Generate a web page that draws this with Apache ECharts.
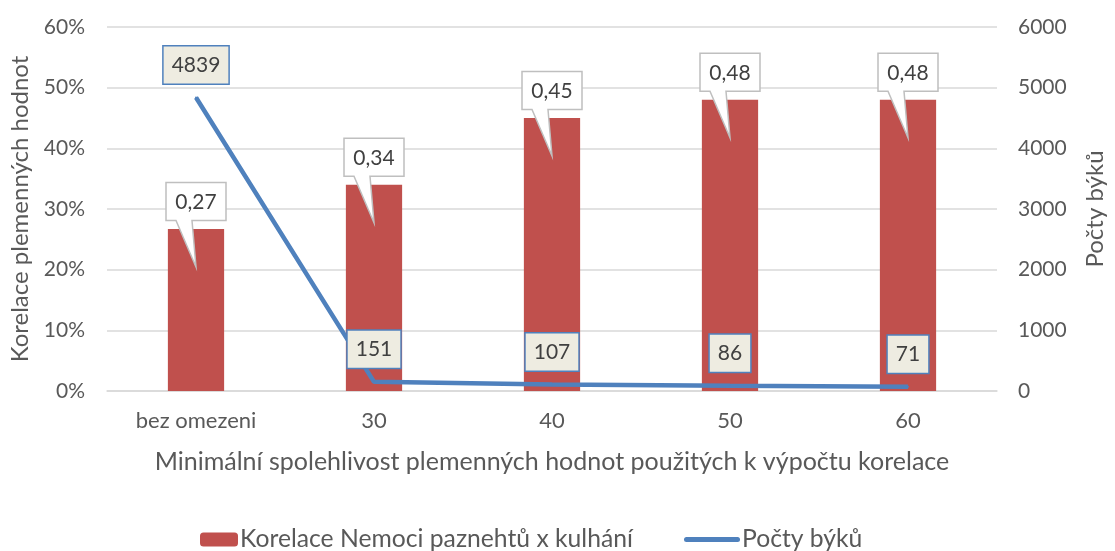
<!DOCTYPE html>
<html>
<head>
<meta charset="utf-8">
<script src="https://cdn.jsdelivr.net/npm/echarts@6/dist/echarts.min.js"></script>
<style>
html,body{margin:0;padding:0;background:#fff;}
#c{width:1115px;height:551px;}
</style>
</head>
<body>
<div id="c"></div>
<script>
const categories = ['bez omezeni', '30', '40', '50', '60'];
const correlation = [0.267, 0.34, 0.45, 0.48, 0.48];
const bullCounts = [4839, 151, 107, 86, 71];
const leftTicks = { min: 0, max: 0.6, interval: 0.1 };
const rightTicks = { min: 0, max: 6000, interval: 1000 };
const barName = 'Korelace Nemoci paznehtů x kulhání';
const lineName = 'Počty býků';

const FONT = 'Lato';
const TXT = '#595959';

const chart = echarts.init(document.getElementById('c'));

function callout(params, api) {
  const idx = api.value(0);
  const p = api.coord([idx, api.value(1)]);
  const x = p[0], top = p[1];
  const w = 60, h = 38;
  const by = top - 8.5;
  const ty = by - h;
  const pts = [
    [x - w / 2, ty], [x + w / 2, ty], [x + w / 2, by],
    [x - 4, by], [x, top + 38], [x - 20, by], [x - w / 2, by]
  ];
  return {
    type: 'group',
    children: [
      { type: 'polygon', shape: { points: pts },
        style: { fill: '#ffffff', stroke: '#BFBFBF', lineWidth: 1.5 } },
      { type: 'text', x: x, y: ty + h / 2 + 1,
        style: { text: api.value(1).toFixed(2).replace('.', ','), fill: '#404040',
          font: '21px ' + FONT, align: 'center', verticalAlign: 'middle' } }
    ]
  };
}

chart.setOption({
  animation: false,
  textStyle: { fontFamily: FONT },
  grid: { left: 107, right: 107, top: 27, bottom: 160 },
  legend: [
    { data: [barName], left: 200, top: 527, padding: 0, itemWidth: 38, itemHeight: 14, itemGap: 0,
      textStyle: { fontFamily: FONT, fontSize: 24.7, color: TXT, padding: [0,0,0,-3] } },
    { data: [{ name: lineName, icon: 'path://M2.5,0 L53.5,0 A2.5,2.5 0 0 1 53.5,5 L2.5,5 A2.5,2.5 0 0 1 2.5,0 Z' }],
      left: 684, top: 527, padding: 0, itemWidth: 56, itemHeight: 5, itemGap: 0,
      textStyle: { fontFamily: FONT, fontSize: 24.7, color: TXT, padding: [0,0,0,-3] } }
  ],
  xAxis: {
    type: 'category', data: categories,
    axisTick: { show: false },
    axisLine: { lineStyle: { color: '#D9D9D9', width: 1.5 } },
    axisLabel: { color: TXT, fontSize: 22, margin: 19, fontFamily: FONT },
    name: 'Minimální spolehlivost plemenných hodnot použitých k výpočtu korelace',
    nameLocation: 'middle', nameGap: 58,
    nameTextStyle: { color: TXT, fontSize: 25, fontFamily: FONT }
  },
  yAxis: [
    { type: 'value', min: leftTicks.min, max: leftTicks.max, interval: leftTicks.interval,
      axisLabel: { color: TXT, fontSize: 21, margin: 22, fontFamily: FONT,
        formatter: v => Math.round(v * 100) + '%' },
      splitLine: { lineStyle: { color: '#D9D9D9', width: 1.5 } },
      axisLine: { show: false }, axisTick: { show: false },
      name: 'Korelace plemenných hodnot', nameLocation: 'middle', nameGap: 75,
      nameTextStyle: { color: TXT, fontSize: 24, fontFamily: FONT } },
    { type: 'value', min: rightTicks.min, max: rightTicks.max, interval: rightTicks.interval,
      position: 'right',
      axisLabel: { color: TXT, fontSize: 21, margin: 21, fontFamily: FONT,
        formatter: v => String(v) },
      splitLine: { show: false }, axisLine: { show: false }, axisTick: { show: false },
      name: 'Počty býků', nameLocation: 'middle', nameGap: 86,
      nameTextStyle: { color: TXT, fontSize: 24, fontFamily: FONT } }
  ],
  series: [
    { name: barName, type: 'bar', data: correlation, barWidth: '31.6%',
      itemStyle: { color: '#C0504D' }, yAxisIndex: 0 },
    { name: 'callouts', type: 'custom', data: correlation.map((v, i) => [i, v]),
      renderItem: callout, yAxisIndex: 0, z: 3, silent: true },
    { name: lineName, type: 'line', data: bullCounts, yAxisIndex: 1,
      symbol: 'circle', symbolSize: 2, showSymbol: true,
      lineStyle: { color: '#4F81BD', width: 4.5 },
      itemStyle: { color: '#4F81BD' }, z: 4,
      label: { show: true, position: 'top', distance: 13,
        color: '#404040', fontSize: 21, fontFamily: FONT,
        backgroundColor: '#EEECE1', borderColor: '#4F81BD', borderWidth: 1.5,
        padding: [8, 8, 8, 8] } }
  ]
});
</script>
</body>
</html>
